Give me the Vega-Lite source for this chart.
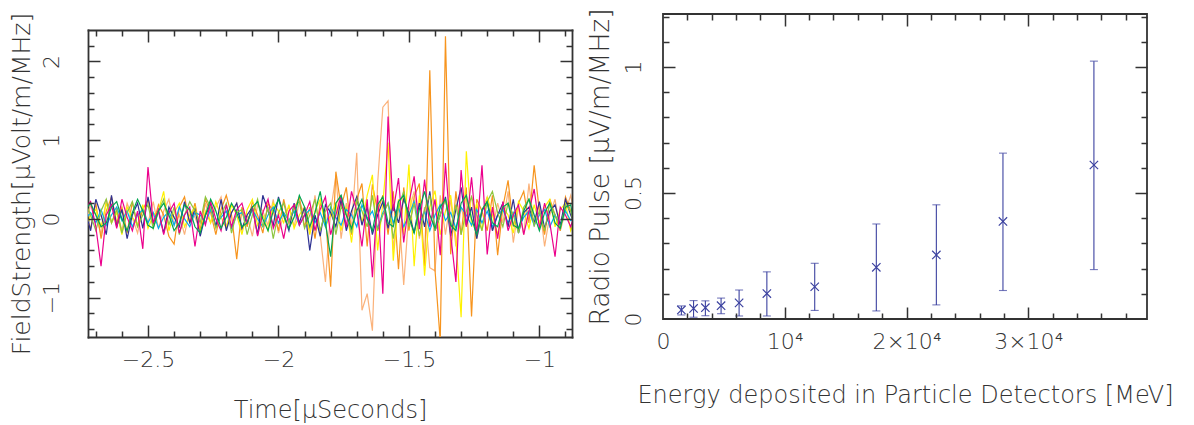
{
"$schema":"https://vega.github.io/schema/vega-lite/v6.json",
"padding":{"left":8,"top":7,"right":5,"bottom":5},
"spacing":13,
"config":{"font":"DejaVu Sans","view":{"stroke":"#333","strokeWidth":1.8},
"axis":{"grid":false,"domain":false,"domainColor":"#333","domainWidth":1.8,"domainCap":"square","labelFont":"DejaVu Sans","labelFontSize":22,"labelFontWeight":200,"labelColor":"#333","titleFont":"DejaVu Sans","titleFontSize":24,"titleFontWeight":200,"titleColor":"#333","tickColor":"#333","tickWidth":1.5,"labelFlush":false,"labelOverlap":false}},
"datasets":{
"wave":[
{"t":-2.74,"m":0.15,"o":0.05,"p":-0.10,"y":-0.15,"n":0.10,"c":0.00,"g":0.20,"e":0.12},
{"t":-2.72,"m":0.22,"o":-0.12,"p":0.18,"y":0.05,"n":-0.15,"c":0.08,"g":0.05,"e":0.20},
{"t":-2.70,"m":-0.10,"o":0.20,"p":0.05,"y":0.12,"n":0.25,"c":-0.05,"g":-0.15,"e":0.05},
{"t":-2.68,"m":-0.60,"o":-0.25,"p":-0.20,"y":-0.10,"n":0.05,"c":0.12,"g":0.10,"e":-0.10},
{"t":-2.66,"m":0.05,"o":0.10,"p":0.25,"y":0.20,"n":-0.20,"c":-0.08,"g":0.25,"e":-0.05},
{"t":-2.64,"m":0.18,"o":0.28,"p":-0.05,"y":-0.05,"n":0.30,"c":0.05,"g":-0.05,"e":0.15},
{"t":-2.62,"m":-0.12,"o":-0.05,"p":0.12,"y":0.08,"n":-0.10,"c":0.15,"g":0.12,"e":0.22},
{"t":-2.60,"m":0.25,"o":0.15,"p":-0.15,"y":-0.20,"n":0.12,"c":-0.02,"g":-0.18,"e":0.00},
{"t":-2.58,"m":0.02,"o":-0.18,"p":0.20,"y":0.15,"n":-0.25,"c":0.10,"g":0.08,"e":-0.15},
{"t":-2.56,"m":-0.15,"o":0.22,"p":0.02,"y":0.02,"n":0.05,"c":-0.10,"g":0.22,"e":0.08},
{"t":-2.54,"m":0.10,"o":-0.10,"p":-0.18,"y":-0.08,"n":0.20,"c":0.05,"g":-0.10,"e":0.25},
{"t":-2.52,"m":-0.38,"o":0.12,"p":0.15,"y":0.18,"n":-0.12,"c":0.12,"g":0.05,"e":0.10},
{"t":-2.50,"m":0.66,"o":0.25,"p":-0.05,"y":-0.12,"n":0.28,"c":-0.05,"g":0.18,"e":-0.08},
{"t":-2.48,"m":-0.05,"o":-0.08,"p":0.22,"y":0.05,"n":-0.05,"c":0.08,"g":-0.12,"e":-0.12},
{"t":-2.46,"m":0.12,"o":0.18,"p":-0.12,"y":0.10,"n":0.10,"c":-0.12,"g":0.10,"e":0.10},
{"t":-2.44,"m":-0.20,"o":0.05,"p":0.10,"y":0.35,"n":-0.18,"c":0.02,"g":0.25,"e":0.20},
{"t":-2.42,"m":0.08,"o":-0.22,"p":0.25,"y":-0.15,"n":0.15,"c":0.10,"g":-0.08,"e":0.05},
{"t":-2.40,"m":0.20,"o":-0.32,"p":-0.08,"y":0.08,"n":0.02,"c":-0.08,"g":0.15,"e":-0.15},
{"t":-2.38,"m":-0.18,"o":0.15,"p":0.05,"y":0.20,"n":-0.10,"c":0.15,"g":-0.20,"e":-0.05},
{"t":-2.36,"m":0.05,"o":0.28,"p":-0.20,"y":-0.10,"n":0.22,"c":0.00,"g":0.05,"e":0.18},
{"t":-2.34,"m":0.15,"o":-0.05,"p":0.12,"y":0.05,"n":-0.05,"c":-0.10,"g":0.22,"e":0.12},
{"t":-2.32,"m":-0.35,"o":0.20,"p":0.02,"y":0.15,"n":0.12,"c":0.08,"g":0.10,"e":-0.10},
{"t":-2.30,"m":0.10,"o":-0.15,"p":-0.15,"y":-0.18,"n":-0.22,"c":0.05,"g":-0.05,"e":-0.18},
{"t":-2.28,"m":-0.08,"o":0.25,"p":0.20,"y":0.10,"n":0.05,"c":-0.05,"g":0.28,"e":0.05},
{"t":-2.26,"m":0.22,"o":0.08,"p":-0.05,"y":-0.05,"n":0.18,"c":0.12,"g":0.15,"e":0.25},
{"t":-2.24,"m":0.00,"o":-0.20,"p":0.15,"y":0.22,"n":-0.10,"c":-0.08,"g":-0.12,"e":0.10},
{"t":-2.22,"m":-0.15,"o":0.12,"p":0.28,"y":0.02,"n":0.25,"c":0.02,"g":0.05,"e":-0.12},
{"t":-2.20,"m":0.18,"o":0.30,"p":-0.10,"y":-0.12,"n":-0.15,"c":0.10,"g":0.20,"e":0.02},
{"t":-2.18,"m":-0.10,"o":0.05,"p":0.08,"y":0.18,"n":0.08,"c":-0.12,"g":-0.18,"e":0.20},
{"t":-2.16,"m":0.12,"o":-0.51,"p":0.20,"y":0.05,"n":0.20,"c":0.05,"g":0.08,"e":0.08},
{"t":-2.14,"m":0.20,"o":0.15,"p":-0.15,"y":-0.20,"n":-0.12,"c":0.08,"g":0.12,"e":-0.10},
{"t":-2.12,"m":-0.05,"o":-0.10,"p":0.05,"y":0.12,"n":0.05,"c":-0.05,"g":-0.20,"e":-0.05},
{"t":-2.10,"m":0.15,"o":0.22,"p":-0.22,"y":0.25,"n":0.15,"c":0.12,"g":0.05,"e":0.15},
{"t":-2.08,"m":-0.22,"o":0.05,"p":0.18,"y":-0.08,"n":-0.20,"c":0.00,"g":0.25,"e":0.22},
{"t":-2.06,"m":0.08,"o":-0.18,"p":0.10,"y":0.05,"n":0.30,"c":-0.10,"g":-0.10,"e":0.00},
{"t":-2.04,"m":0.25,"o":0.20,"p":-0.08,"y":-0.15,"n":0.10,"c":0.05,"g":0.15,"e":-0.15},
{"t":-2.02,"m":-0.12,"o":0.10,"p":0.25,"y":0.20,"n":-0.08,"c":0.15,"g":-0.25,"e":0.10},
{"t":-2.00,"m":0.05,"o":-0.15,"p":-0.18,"y":0.10,"n":0.28,"c":-0.05,"g":0.08,"e":0.25},
{"t":-1.98,"m":-0.25,"o":0.25,"p":0.05,"y":-0.05,"n":0.05,"c":0.08,"g":0.20,"e":0.05},
{"t":-1.96,"m":0.10,"o":-0.05,"p":0.15,"y":0.18,"n":-0.15,"c":-0.02,"g":-0.05,"e":-0.12},
{"t":-1.94,"m":0.18,"o":0.12,"p":-0.10,"y":-0.12,"n":0.20,"c":0.10,"g":0.15,"e":0.02},
{"t":-1.92,"m":-0.08,"o":0.28,"p":0.22,"y":0.05,"n":-0.05,"c":-0.08,"g":0.22,"e":0.30},
{"t":-1.90,"m":0.05,"o":-0.10,"p":0.05,"y":0.15,"n":0.15,"c":0.05,"g":-0.12,"e":0.15},
{"t":-1.88,"m":0.22,"o":0.15,"p":-0.15,"y":-0.20,"n":-0.40,"c":0.12,"g":0.05,"e":-0.10},
{"t":-1.86,"m":-0.15,"o":-0.25,"p":0.30,"y":0.10,"n":0.05,"c":-0.05,"g":0.25,"e":0.08},
{"t":-1.84,"m":0.12,"o":0.20,"p":-0.20,"y":0.25,"n":-0.22,"c":0.08,"g":-0.15,"e":0.35},
{"t":-1.82,"m":0.28,"o":0.05,"p":-0.80,"y":-0.10,"n":0.18,"c":-0.10,"g":0.10,"e":-0.05},
{"t":-1.80,"m":-0.20,"o":-0.86,"p":0.10,"y":0.05,"n":0.08,"c":0.15,"g":0.20,"e":-0.48},
{"t":-1.78,"m":0.05,"o":0.60,"p":0.55,"y":0.20,"n":-0.10,"c":0.02,"g":-0.20,"e":0.20},
{"t":-1.76,"m":0.30,"o":0.15,"p":-0.25,"y":-0.15,"n":0.25,"c":-0.08,"g":0.15,"e":0.30},
{"t":-1.74,"m":-0.10,"o":0.40,"p":0.20,"y":0.15,"n":-0.15,"c":0.12,"g":0.05,"e":0.05},
{"t":-1.72,"m":0.35,"o":-0.20,"p":-0.10,"y":-0.30,"n":0.10,"c":0.05,"g":-0.18,"e":-0.12},
{"t":-1.70,"m":0.10,"o":0.25,"p":0.84,"y":0.28,"n":0.28,"c":-0.10,"g":0.25,"e":0.10},
{"t":-1.68,"m":-0.35,"o":0.45,"p":-1.16,"y":-0.05,"n":-0.08,"c":0.18,"g":0.10,"e":0.25},
{"t":-1.66,"m":0.25,"o":-0.35,"p":-0.95,"y":0.30,"n":0.15,"c":0.00,"g":-0.10,"e":0.00},
{"t":-1.64,"m":-0.74,"o":0.44,"p":-1.42,"y":0.56,"n":-0.20,"c":0.10,"g":0.30,"e":-0.15},
{"t":-1.62,"m":0.30,"o":0.10,"p":0.45,"y":-0.40,"n":0.05,"c":-0.12,"g":-0.15,"e":0.18},
{"t":-1.60,"m":-0.95,"o":0.30,"p":1.42,"y":0.20,"n":0.22,"c":0.08,"g":0.05,"e":0.28},
{"t":-1.58,"m":1.30,"o":-0.20,"p":1.50,"y":0.97,"n":-0.12,"c":0.20,"g":0.20,"e":-0.05},
{"t":-1.56,"m":0.10,"o":0.35,"p":-0.40,"y":-0.53,"n":0.18,"c":-0.05,"g":-0.25,"e":-0.10},
{"t":-1.54,"m":0.52,"o":-0.64,"p":0.20,"y":0.25,"n":-0.05,"c":0.15,"g":0.15,"e":0.22},
{"t":-1.52,"m":-0.30,"o":0.40,"p":-0.84,"y":-0.20,"n":0.25,"c":-0.10,"g":0.35,"e":0.30},
{"t":-1.50,"m":0.20,"o":-0.15,"p":0.10,"y":0.69,"n":0.08,"c":0.05,"g":-0.10,"e":0.02},
{"t":-1.48,"m":0.54,"o":0.28,"p":0.35,"y":-0.60,"n":-0.18,"c":0.22,"g":0.20,"e":-0.18},
{"t":-1.46,"m":-0.13,"o":0.45,"p":-0.25,"y":0.30,"n":0.20,"c":-0.08,"g":-0.22,"e":0.12},
{"t":-1.44,"m":0.50,"o":-0.60,"p":0.15,"y":-0.72,"n":-0.10,"c":0.10,"g":0.12,"e":0.35},
{"t":-1.42,"m":-0.10,"o":1.89,"p":-0.62,"y":0.15,"n":0.35,"c":-0.15,"g":0.30,"e":0.05},
{"t":-1.40,"m":0.25,"o":-0.65,"p":-0.66,"y":0.36,"n":-0.15,"c":0.05,"g":-0.15,"e":-0.12},
{"t":-1.38,"m":-0.46,"o":-1.55,"p":0.30,"y":-0.20,"n":0.05,"c":0.18,"g":0.05,"e":0.15},
{"t":-1.36,"m":0.71,"o":2.32,"p":-0.20,"y":0.10,"n":0.28,"c":-0.02,"g":0.25,"e":0.25},
{"t":-1.34,"m":-0.20,"o":-0.45,"p":0.25,"y":0.30,"n":-0.22,"c":0.08,"g":-0.12,"e":-0.08},
{"t":-1.32,"m":-0.80,"o":0.35,"p":-0.35,"y":-0.25,"n":0.12,"c":-0.12,"g":0.18,"e":-0.15},
{"t":-1.30,"m":0.62,"o":-0.20,"p":0.15,"y":-1.25,"n":0.40,"c":0.15,"g":-0.20,"e":0.20},
{"t":-1.28,"m":-0.10,"o":0.40,"p":-0.10,"y":0.86,"n":-0.08,"c":0.05,"g":0.10,"e":0.30},
{"t":-1.26,"m":0.53,"o":-1.24,"p":0.30,"y":-0.10,"n":0.15,"c":-0.08,"g":0.28,"e":0.00},
{"t":-1.24,"m":-0.20,"o":0.25,"p":-0.25,"y":0.20,"n":-0.25,"c":0.12,"g":0.05,"e":-0.20},
{"t":-1.22,"m":0.68,"o":0.10,"p":0.10,"y":-0.15,"n":0.10,"c":-0.05,"g":-0.15,"e":0.12},
{"t":-1.20,"m":-0.45,"o":-0.15,"p":0.28,"y":0.28,"n":0.22,"c":0.10,"g":0.22,"e":0.22},
{"t":-1.18,"m":0.15,"o":0.30,"p":-0.15,"y":0.05,"n":-0.15,"c":-0.10,"g":0.35,"e":-0.05},
{"t":-1.16,"m":-0.25,"o":-0.46,"p":0.20,"y":-0.20,"n":0.05,"c":0.05,"g":0.08,"e":-0.10},
{"t":-1.14,"m":0.22,"o":0.15,"p":-0.05,"y":0.15,"n":0.20,"c":0.12,"g":-0.10,"e":0.15},
{"t":-1.12,"m":-0.15,"o":0.49,"p":0.35,"y":0.05,"n":-0.10,"c":-0.05,"g":0.20,"e":0.20},
{"t":-1.10,"m":0.05,"o":-0.10,"p":-0.30,"y":-0.18,"n":0.25,"c":0.08,"g":0.05,"e":-0.08},
{"t":-1.08,"m":0.18,"o":0.20,"p":0.15,"y":0.22,"n":-0.18,"c":-0.12,"g":-0.18,"e":-0.12},
{"t":-1.06,"m":-0.20,"o":0.35,"p":-0.20,"y":0.10,"n":0.08,"c":0.02,"g":0.15,"e":0.10},
{"t":-1.04,"m":0.10,"o":-0.05,"p":0.45,"y":-0.12,"n":0.15,"c":0.10,"g":0.25,"e":0.25},
{"t":-1.02,"m":0.38,"o":0.68,"p":-0.10,"y":0.18,"n":-0.05,"c":-0.08,"g":-0.08,"e":0.05},
{"t":-1.00,"m":-0.12,"o":0.10,"p":0.20,"y":-0.05,"n":0.22,"c":0.05,"g":0.10,"e":-0.15},
{"t":-0.98,"m":0.20,"o":-0.20,"p":-0.35,"y":0.15,"n":-0.12,"c":0.12,"g":-0.15,"e":0.08},
{"t":-0.96,"m":-0.05,"o":0.25,"p":0.05,"y":0.25,"n":0.10,"c":-0.10,"g":0.20,"e":0.20},
{"t":-0.94,"m":-0.48,"o":0.05,"p":0.25,"y":-0.10,"n":0.18,"c":0.05,"g":0.05,"e":-0.05},
{"t":-0.92,"m":0.15,"o":-0.15,"p":-0.15,"y":0.12,"n":-0.08,"c":-0.08,"g":-0.12,"e":-0.12},
{"t":-0.90,"m":0.05,"o":0.28,"p":0.10,"y":0.20,"n":0.25,"c":0.10,"g":0.18,"e":0.15},
{"t":-0.88,"m":-0.10,"o":0.10,"p":0.30,"y":-0.15,"n":0.05,"c":-0.02,"g":0.10,"e":0.18},
{"t":-0.86,"m":0.12,"o":0.18,"p":-0.05,"y":0.05,"n":-0.10,"c":0.00,"g":-0.20,"e":-0.20}
],
"pulse":[
{"E":1510,"v":0.036,"lo":0.016,"hi":0.052},
{"E":2510,"v":0.042,"lo":0.007,"hi":0.073},
{"E":3480,"v":0.045,"lo":0.013,"hi":0.072},
{"E":4770,"v":0.053,"lo":0.021,"hi":0.083},
{"E":6250,"v":0.064,"lo":0.012,"hi":0.115},
{"E":8530,"v":0.101,"lo":0.012,"hi":0.187},
{"E":12460,"v":0.128,"lo":0.034,"hi":0.221},
{"E":17520,"v":0.205,"lo":0.032,"hi":0.377},
{"E":22450,"v":0.254,"lo":0.056,"hi":0.453},
{"E":27920,"v":0.387,"lo":0.113,"hi":0.658},
{"E":35390,"v":0.611,"lo":0.196,"hi":1.023}
]},
"hconcat":[
{
"width":484,"height":323,
"view":{"stroke":null},
"data":{"name":"wave"},
"transform":[{"fold":["p","o","y","c","n","g","m","e"],"as":["series","value"]}],
"resolve":{"axis":{"x":"independent","y":"independent"}},
"layer":[
{"mark":{"type":"line","strokeWidth":1.2,"clip":true},
"encoding":{
"x":{"field":"t","type":"quantitative","scale":{"domain":[-2.73,-0.875],"nice":false,"zero":false},
"axis":{"orient":"bottom","values":[-2.5,-2,-1.5,-1],"ticks":false,"domain":true,"labelPadding":12,"title":"Time[μSeconds]","titlePadding":28,"labelExpr":"replace(format(datum.value,'~g'),'-','−')"}},
"y":{"field":"value","type":"quantitative","scale":{"domain":[-1.5,2.4],"range":[323,16],"nice":false,"zero":false},
"axis":{"orient":"left","values":[-1,0,1,2],"ticks":false,"domain":true,"labelAngle":270,"labelPadding":25,"title":"FieldStrength[μVolt/m/MHz]","titleFontSize":25,"titlePadding":6,"labelExpr":"replace(format(datum.value,'~g'),'-','−')"}},
"color":{"field":"series","type":"nominal","scale":{"domain":["p","o","y","c","n","g","m","e"],"range":["#fbb27a","#f7941d","#fff200","#00aeef","#2e3192","#8dc63f","#ec008c","#00a651"]},"legend":null}}},
{"mark":{"type":"point","opacity":0,"clip":true},
"encoding":{
"x":{"field":"t","type":"quantitative","scale":{"domain":[-2.73,-0.875],"nice":false,"zero":false},"axis":{"orient":"bottom","values":[-2.5,-2,-1.5,-1],"labels":false,"tickSize":-12,"title":null,"zindex":1}},
"y":{"field":"value","type":"quantitative","scale":{"domain":[-1.5,2.4],"range":[323,16],"nice":false,"zero":false},"axis":{"orient":"left","values":[-1,0,1,2],"labels":false,"tickSize":-12,"title":null,"zindex":1}}}},
{"mark":{"type":"point","opacity":0,"clip":true},
"encoding":{
"x":{"field":"t","type":"quantitative","scale":{"domain":[-2.73,-0.875],"nice":false,"zero":false},"axis":{"orient":"bottom","values":[-2.7,-2.6,-2.4,-2.3,-2.2,-2.1,-1.9,-1.8,-1.7,-1.6,-1.4,-1.3,-1.2,-1.1,-0.9],"labels":false,"tickSize":-6,"title":null,"zindex":1}},
"y":{"field":"value","type":"quantitative","scale":{"domain":[-1.5,2.4],"range":[323,16],"nice":false,"zero":false},"axis":{"orient":"left","values":[-1.4,-1.2,-0.8,-0.6,-0.4,-0.2,0.2,0.4,0.6,0.8,1.2,1.4,1.6,1.8,2.2],"labels":false,"tickSize":-6,"title":null,"zindex":1}}}},
{"mark":{"type":"point","opacity":0,"clip":true},
"encoding":{
"x":{"field":"t","type":"quantitative","scale":{"domain":[-2.73,-0.875],"nice":false,"zero":false},"axis":{"orient":"top","offset":-16,"domain":true,"values":[-2.5,-2,-1.5,-1],"labels":false,"tickSize":-12,"title":null,"zindex":1}},
"y":{"field":"value","type":"quantitative","scale":{"domain":[-1.5,2.4],"range":[323,16],"nice":false,"zero":false},"axis":{"orient":"right","domain":true,"values":[-1,0,1,2],"labels":false,"tickSize":-12,"title":null,"zindex":1}}}},
{"mark":{"type":"point","opacity":0,"clip":true},
"encoding":{
"x":{"field":"t","type":"quantitative","scale":{"domain":[-2.73,-0.875],"nice":false,"zero":false},"axis":{"orient":"top","offset":-16,"values":[-2.7,-2.6,-2.4,-2.3,-2.2,-2.1,-1.9,-1.8,-1.7,-1.6,-1.4,-1.3,-1.2,-1.1,-0.9],"labels":false,"tickSize":-6,"title":null,"zindex":1}},
"y":{"field":"value","type":"quantitative","scale":{"domain":[-1.5,2.4],"range":[323,16],"nice":false,"zero":false},"axis":{"orient":"right","values":[-1.4,-1.2,-0.8,-0.6,-0.4,-0.2,0.2,0.4,0.6,0.8,1.2,1.4,1.6,1.8,2.2],"labels":false,"tickSize":-6,"title":null,"zindex":1}}}}
]
},
{
"width":484,"height":305,
"data":{"name":"pulse"},
"resolve":{"axis":{"x":"independent","y":"independent"}},
"layer":[
{"mark":{"type":"rule","color":"#3c42a0","strokeWidth":1.1},
"encoding":{
"x":{"field":"E","type":"quantitative","scale":{"domain":[0,39750],"nice":false,"zero":false},"axis":{"orient":"bottom","values":[10000,20000,30000],"labels":false,"tickSize":-12,"title":null,"zindex":1}},
"y":{"field":"lo","type":"quantitative","scale":{"domain":[0,1.21],"nice":false,"zero":false},"axis":{"orient":"left","values":[0.5,1],"labels":false,"tickSize":-12,"title":null,"zindex":1}},
"y2":{"field":"hi"}}},
{"mark":{"type":"tick","orient":"horizontal","size":8,"thickness":1.1,"color":"#3c42a0"},
"encoding":{
"x":{"field":"E","type":"quantitative","scale":{"domain":[0,39750],"nice":false,"zero":false},"axis":{"orient":"bottom","values":[2000,4000,6000,8000,12000,14000,16000,18000,22000,24000,26000,28000,32000,34000,36000,38000],"labels":false,"tickSize":-6,"title":null,"zindex":1}},
"y":{"field":"lo","type":"quantitative","scale":{"domain":[0,1.21],"nice":false,"zero":false},"axis":{"orient":"left","values":[0.1,0.2,0.3,0.4,0.6,0.7,0.8,0.9,1.1,1.2],"labels":false,"tickSize":-6,"title":null,"zindex":1}}}},
{"mark":{"type":"tick","orient":"horizontal","size":8,"thickness":1.1,"color":"#3c42a0"},
"encoding":{
"x":{"field":"E","type":"quantitative","scale":{"domain":[0,39750],"nice":false,"zero":false},"axis":{"orient":"top","values":[10000,20000,30000],"labels":false,"tickSize":-12,"title":null,"zindex":1}},
"y":{"field":"hi","type":"quantitative","scale":{"domain":[0,1.21],"nice":false,"zero":false},"axis":{"orient":"right","values":[0.5,1],"labels":false,"tickSize":-12,"title":null,"zindex":1}}}},
{"mark":{"type":"point","shape":"M-1,-1L1,1M-1,1L1,-1","size":70,"filled":false,"strokeWidth":1.2,"color":"#3c42a0","opacity":1},
"encoding":{
"x":{"field":"E","type":"quantitative","scale":{"domain":[0,39750],"nice":false,"zero":false},"axis":{"orient":"bottom","values":[0,10000,20000,30000],"ticks":false,"labelPadding":12,"title":"Energy deposited in Particle Detectors [MeV]","titlePadding":31,"labelExpr":"datum.value == 0 ? '0' : datum.value == 10000 ? '10⁴' : format(datum.value/10000,'d') + '×10⁴'"}},
"y":{"field":"v","type":"quantitative","scale":{"domain":[0,1.21],"nice":false,"zero":false},"axis":{"orient":"left","values":[0,0.5,1],"ticks":false,"labelAngle":270,"labelPadding":18,"title":"Radio Pulse [μV/m/MHz]","titleFontSize":26.5,"titlePadding":8,"labelExpr":"format(datum.value,'~g')"}}}},
{"mark":{"type":"point","opacity":0},
"encoding":{
"x":{"field":"E","type":"quantitative","scale":{"domain":[0,39750],"nice":false,"zero":false},"axis":{"orient":"top","values":[2000,4000,6000,8000,12000,14000,16000,18000,22000,24000,26000,28000,32000,34000,36000,38000],"labels":false,"tickSize":-6,"title":null,"zindex":1}},
"y":{"field":"v","type":"quantitative","scale":{"domain":[0,1.21],"nice":false,"zero":false},"axis":{"orient":"right","values":[0.1,0.2,0.3,0.4,0.6,0.7,0.8,0.9,1.1,1.2],"labels":false,"tickSize":-6,"title":null,"zindex":1}}}}
]
}
]
}
